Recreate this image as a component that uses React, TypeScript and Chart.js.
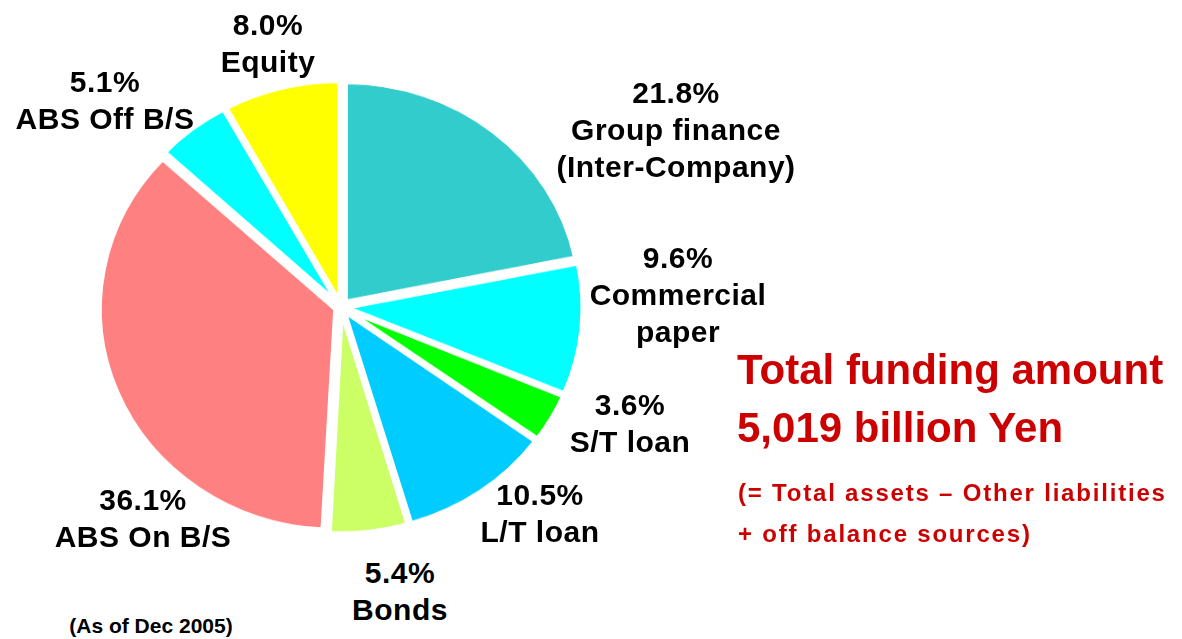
import React, { useEffect, useRef } from "react";
import { Chart, registerables } from "chart.js";

Chart.register(...registerables);

// ---- data ----
const categories = [
  "Group finance\n(Inter-Company)",
  "Commercial\npaper",
  "S/T loan",
  "L/T loan",
  "Bonds",
  "ABS On B/S",
  "ABS Off B/S",
  "Equity",
];
const shares = [21.8, 9.6, 3.6, 10.5, 5.4, 36.1, 5.1, 8.0];
const sliceColors = ["#33CCCC", "#00FFFF", "#00FF00", "#00CCFF", "#CCFF66", "#FF8080", "#00FFFF", "#FFFF00"];
const totalLines = ["Total funding amount", "5,019 billion Yen"];
const noteLines = ["(= Total assets \u2013 Other liabilities", "+ off balance sources)"];
const asOfNote = "(As of Dec 2005)";

// ---- layout (label anchors: centre x, first baseline y) ----
const labelAnchors: [number, number][] = [
  [676, 103],
  [678, 268],
  [630, 415],
  [540, 505],
  [400, 583],
  [143, 510],
  [105, 92],
  [268, 35],
];
const PIE_CX = 341;
const PIE_CY = 307;
const PIE_R = 235;
const PIE_SCALE_Y = 0.936;
const CANVAS = 520;
const EXPLODE = 7;

const FONT = "'Liberation Sans', Arial, Helvetica, sans-serif";

function PieChart() {
  const ref = useRef<HTMLCanvasElement | null>(null);
  useEffect(() => {
    if (!ref.current) return;
    const total = shares.reduce((a, b) => a + b, 0);
    const chart = new Chart(ref.current, {
      type: "pie",
      data: {
        labels: categories,
        datasets: [
          {
            data: shares,
            backgroundColor: sliceColors,
            borderColor: "#ffffff",
            borderWidth: 5,
            borderAlign: "center",
            offset: (ctx: any) => {
              const v = shares[ctx.dataIndex] ?? 0;
              const circ = (v / total) * Math.PI * 2;
              const fix = 1 - Math.sin(Math.min(Math.PI, circ));
              return (4 * EXPLODE) / (1 + fix);
            },
          } as any,
        ],
      },
      options: {
        responsive: false,
        animation: false,
        radius: PIE_R,
        rotation: 0,
        layout: { padding: 0 },
        plugins: {
          legend: { display: false },
          tooltip: { enabled: false },
        },
      } as any,
    });
    return () => chart.destroy();
  }, []);
  return (
    <div
      style={{
        position: "absolute",
        left: PIE_CX - CANVAS / 2,
        top: PIE_CY - CANVAS / 2,
        width: CANVAS,
        height: CANVAS,
        transform: `scaleY(${PIE_SCALE_Y})`,
        transformOrigin: "50% 50%",
      }}
    >
      <canvas ref={ref} width={CANVAS} height={CANVAS} />
    </div>
  );
}

function baselineTop(baseline: number, font: number, lh: number) {
  return baseline - ((lh - 1.117 * font) / 2 + 0.905 * font);
}

export default function App() {
  const labelFont = 30;
  const labelLH = 37;
  return (
    <div
      style={{
        position: "fixed",
        left: 0,
        top: 0,
        width: 1182,
        height: 639,
        background: "#ffffff",
        overflow: "hidden",
        fontFamily: FONT,
        fontWeight: "bold",
      }}
    >
      <PieChart />
      {categories.map((c, i) => (
        <div
          key={i}
          style={{
            position: "absolute",
            left: labelAnchors[i][0] - 200,
            top: baselineTop(labelAnchors[i][1], labelFont, labelLH),
            width: 400,
            textAlign: "center",
            fontSize: labelFont,
            lineHeight: `${labelLH}px`,
            letterSpacing: "0.5px",
            whiteSpace: "pre",
            color: "#000000",
          }}
        >
          {`${shares[i].toFixed(1)}%\n${c}`}
        </div>
      ))}
      <div
        style={{
          position: "absolute",
          left: 737,
          top: baselineTop(385, 42, 58),
          fontSize: 42,
          lineHeight: "58px",
          color: "#CC0000",
          whiteSpace: "pre",
        }}
      >
        {totalLines.join("\n")}
      </div>
      <div
        style={{
          position: "absolute",
          left: 738,
          top: baselineTop(501, 24, 41),
          fontSize: 24,
          lineHeight: "41px",
          letterSpacing: "1.8px",
          color: "#CC0000",
          whiteSpace: "pre",
        }}
      >
        {noteLines.join("\n")}
      </div>
      <div
        style={{
          position: "absolute",
          left: 151 - 150,
          width: 300,
          textAlign: "center",
          top: baselineTop(633, 21, 24),
          fontSize: 21,
          lineHeight: "24px",
          color: "#000000",
          whiteSpace: "pre",
        }}
      >
        {asOfNote}
      </div>
    </div>
  );
}
